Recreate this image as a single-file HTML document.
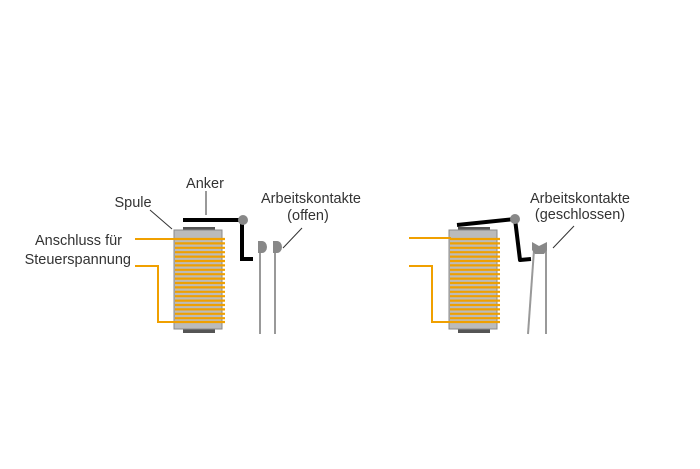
<!DOCTYPE html>
<html><head><meta charset="utf-8"><style>html,body{margin:0;padding:0;background:#fff}svg{display:block}text{font-family:"Liberation Sans",sans-serif;font-size:14.5px;fill:#333}</style></head><body>
<svg width="700" height="469" viewBox="0 0 700 469">
<defs>
<g id="coil">
<rect x="9" y="-3" width="32" height="4" fill="#555"/>
<rect x="9" y="98" width="32" height="5" fill="#555"/>
<rect x="0" y="0" width="48" height="99" fill="#bbb" stroke="#888" stroke-width="1"/>
<g stroke="#f0a000" stroke-width="2.2">
<line x1="1" x2="51" y1="9" y2="9"/><line x1="1" x2="51" y1="13.4" y2="13.4"/><line x1="1" x2="51" y1="17.8" y2="17.8"/><line x1="1" x2="51" y1="22.2" y2="22.2"/><line x1="1" x2="51" y1="26.6" y2="26.6"/><line x1="1" x2="51" y1="31" y2="31"/><line x1="1" x2="51" y1="35.4" y2="35.4"/><line x1="1" x2="51" y1="39.8" y2="39.8"/><line x1="1" x2="51" y1="44.2" y2="44.2"/><line x1="1" x2="51" y1="48.6" y2="48.6"/><line x1="1" x2="51" y1="53" y2="53"/><line x1="1" x2="51" y1="57.4" y2="57.4"/><line x1="1" x2="51" y1="61.8" y2="61.8"/><line x1="1" x2="51" y1="66.2" y2="66.2"/><line x1="1" x2="51" y1="70.6" y2="70.6"/><line x1="1" x2="51" y1="75" y2="75"/><line x1="1" x2="51" y1="79.4" y2="79.4"/><line x1="1" x2="51" y1="83.8" y2="83.8"/><line x1="1" x2="51" y1="88.2" y2="88.2"/><line x1="1" x2="51" y1="92" y2="92"/>
</g>
</g>
</defs>
<!-- left -->
<use href="#coil" x="174" y="230"/>
<polyline points="135,239 176,239" stroke="#f0a000" stroke-width="2" fill="none"/>
<polyline points="135,266 158,266 158,322 176,322" stroke="#f0a000" stroke-width="2" fill="none"/>
<polyline points="183,220 242,220 242,259 253,259" stroke="#000" stroke-width="4" fill="none"/>
<circle cx="243" cy="220" r="5" fill="#888"/>
<line x1="260" y1="248" x2="260" y2="334" stroke="#999" stroke-width="2"/>
<line x1="275" y1="248" x2="275" y2="334" stroke="#999" stroke-width="2"/>
<path d="M258,241 L262,241 A5,6 0 0 1 262,253 L258,253 z" fill="#888"/>
<path d="M273,241 L277,241 A5,6 0 0 1 277,253 L273,253 z" fill="#888"/>
<text x="205" y="188" text-anchor="middle">Anker</text>
<line x1="206" y1="191" x2="206" y2="215" stroke="#333"/>
<text x="133" y="207" text-anchor="middle">Spule</text>
<line x1="150" y1="210" x2="172" y2="229" stroke="#333"/>
<text x="311" y="203" text-anchor="middle">Arbeitskontakte</text>
<text x="308" y="220" text-anchor="middle">(offen)</text>
<line x1="302" y1="228" x2="283" y2="248" stroke="#333"/>
<text x="122" y="245" text-anchor="end">Anschluss für</text>
<text x="131" y="264" text-anchor="end">Steuerspannung</text>
<!-- right -->
<use href="#coil" x="449" y="230"/>
<polyline points="409,238 451,238" stroke="#f0a000" stroke-width="2" fill="none"/>
<polyline points="409,266 432,266 432,322 451,322" stroke="#f0a000" stroke-width="2" fill="none"/>
<polyline points="457,225 515,219 520,260 531,259" stroke="#000" stroke-width="4" fill="none" stroke-linejoin="round"/>
<circle cx="515" cy="219" r="5" fill="#888"/>
<line x1="534" y1="250" x2="528" y2="334" stroke="#999" stroke-width="2"/>
<line x1="546" y1="250" x2="546" y2="334" stroke="#999" stroke-width="2"/>
<polygon points="532,242 539,246 547,242 547,250 544,254 535,254 532,250" fill="#888"/>
<text x="580" y="203" text-anchor="middle">Arbeitskontakte</text>
<text x="580" y="219" text-anchor="middle">(geschlossen)</text>
<line x1="574" y1="226" x2="553" y2="248" stroke="#333"/>
</svg>
</body></html>
